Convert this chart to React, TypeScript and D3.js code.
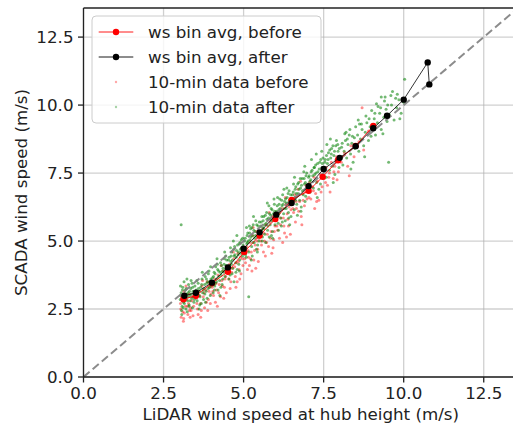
import React from "react";
import * as d3 from "d3";

// bin averages (LiDAR ws, SCADA ws)
const binBefore: [number, number][] = [
  [3.12, 2.86], [3.51, 2.99], [4.01, 3.45], [4.51, 3.87], [5.02, 4.6], [5.5, 5.2],
  [5.99, 5.81], [6.5, 6.51], [7.03, 6.85], [7.47, 7.36], [7.95, 7.97], [8.5, 8.5], [9.05, 9.23],
];
const binAfter: [number, number][] = [
  [3.15, 2.99], [3.51, 3.1], [4.01, 3.47], [4.51, 4.03], [5.0, 4.72], [5.5, 5.32],
  [6.02, 5.97], [6.5, 6.4], [7.03, 7.02], [7.5, 7.65], [8.0, 8.06], [8.5, 8.49],
  [9.05, 9.15], [9.48, 9.61], [10.0, 10.2], [10.75, 11.57], [10.8, 10.76],
];

// 10-min samples
const rawBefore: [number, number][] = [
  [3.03,2.7],[3.07,2.95],[3.1,2.4],[3.14,3.15],[3.18,2.6],[3.22,2.85],[3.26,2.3],[3.3,3.05],[3.34,2.55],[3.38,2.8],[3.42,2.25],[3.46,3.0],[3.05,2.2],[3.2,3.35],[3.36,2.45],[3.12,2.05],[3.28,2.7],
  [3.04,2.5],[3.09,2.8],[3.15,2.35],[3.19,3.0],[3.24,2.6],[3.31,2.45],[3.39,2.95],[3.44,2.6],[3.13,2.15],[3.33,2.2],
  [3.52,2.9],[3.56,2.5],[3.6,3.15],[3.65,2.7],[3.7,3.35],[3.74,2.95],[3.78,2.55],[3.82,3.2],[3.86,3.5],[3.9,2.85],[3.94,3.3],[3.98,3.05],[3.58,2.3],[3.88,2.45],[3.72,3.55],
  [3.54,2.7],[3.63,3.0],[3.68,2.45],[3.76,3.1],[3.84,2.75],[3.92,3.15],[3.96,2.7],[3.66,2.2],
  [4.02,3.3],[4.06,3.0],[4.1,3.6],[4.15,3.2],[4.2,3.75],[4.24,3.4],[4.28,2.95],[4.32,3.55],[4.36,3.9],[4.4,3.3],[4.44,3.7],[4.48,4.05],[4.12,2.75],[4.3,4.1],[4.46,3.1],
  [4.04,3.15],[4.14,3.45],[4.22,3.1],[4.34,3.35],[4.42,3.6],[4.38,2.9],[4.18,2.6],
  [4.52,3.8],[4.56,4.15],[4.6,3.5],[4.65,4.0],[4.7,4.35],[4.74,3.7],[4.78,4.2],[4.82,4.55],[4.86,3.95],[4.9,4.4],[4.94,4.75],[4.98,4.1],[4.58,3.25],[4.8,3.5],[4.68,4.6],[4.92,3.8],
  [4.54,3.6],[4.63,3.85],[4.72,4.05],[4.84,4.25],[4.96,4.35],[4.76,3.3],[4.88,3.6],
  [5.02,4.55],[5.06,4.2],[5.1,4.8],[5.15,4.4],[5.2,4.95],[5.24,4.6],[5.28,5.2],[5.32,4.3],[5.36,4.85],[5.4,5.35],[5.44,4.7],[5.48,5.1],[5.12,3.95],[5.3,5.5],[5.46,4.25],[5.18,4.1],
  [5.04,4.35],[5.14,4.65],[5.22,4.35],[5.34,4.65],[5.42,5.0],[5.38,4.0],[5.26,3.9],
  [5.52,5.15],[5.56,4.85],[5.6,5.45],[5.65,5.0],[5.7,5.6],[5.74,5.25],[5.78,4.8],[5.82,5.7],[5.86,5.35],[5.9,5.9],[5.94,5.05],[5.98,5.55],[5.62,4.6],[5.8,6.05],[5.92,4.75],
  [5.54,5.0],[5.64,5.3],[5.72,4.95],[5.84,5.1],[5.96,5.35],[5.68,4.45],[5.88,4.55],
  [6.02,5.75],[6.06,5.4],[6.1,6.0],[6.15,5.6],[6.2,6.2],[6.24,5.85],[6.28,5.3],[6.32,6.35],[6.36,6.0],[6.4,5.55],[6.44,6.5],[6.48,6.15],[6.12,5.1],[6.3,6.6],[6.46,5.25],
  [6.04,5.55],[6.16,5.85],[6.26,5.55],[6.38,5.8],[6.42,6.25],[6.22,4.95],[6.34,5.15],
  [6.52,6.4],[6.56,6.05],[6.6,6.7],[6.65,6.2],[6.7,6.9],[6.75,6.45],[6.8,5.9],[6.85,6.75],[6.9,6.3],[6.95,7.05],[6.62,5.7],[6.78,7.2],[6.98,6.55],
  [6.54,6.2],[6.64,6.45],[6.72,6.1],[6.86,6.5],[6.92,6.8],[6.82,5.6],
  [7.02,6.8],[7.06,7.15],[7.1,6.55],[7.15,7.0],[7.2,7.35],[7.25,6.75],[7.3,7.2],[7.35,6.5],[7.4,7.45],[7.45,7.0],[7.22,6.2],[7.48,7.6],
  [7.04,6.6],[7.18,6.85],[7.28,6.45],[7.42,6.8],[7.56,7.15],[7.66,7.35],[7.82,7.55],[7.92,7.25],
  [7.52,7.3],[7.58,7.7],[7.62,7.05],[7.68,7.5],[7.74,7.9],[7.8,7.3],[7.85,7.75],[7.9,8.1],[7.96,7.55],[7.7,6.8],
  [8.05,7.9],[8.15,8.25],[8.25,7.75],[8.35,8.5],[8.45,8.1],[8.6,8.65],[8.75,8.35],[8.9,9.05],[9.05,9.2],[8.3,7.4],[8.7,9.9],
];

const rawAfter: [number, number][] = [
  [3.02,2.85],[3.05,3.1],[3.08,2.6],[3.1,3.3],[3.12,2.95],[3.15,2.7],[3.18,3.2],[3.2,2.5],[3.22,3.05],[3.25,2.8],[3.28,3.4],[3.3,2.65],[3.32,3.0],[3.35,3.25],[3.38,2.9],[3.4,2.55],[3.42,3.15],[3.45,2.75],[3.48,3.35],[3.03,3.35],[3.06,2.45],[3.14,3.5],[3.24,2.4],[3.36,3.55],[3.44,2.95],[3.12,2.75],[3.27,3.1],[3.33,2.8],[3.47,3.05],[3.19,2.9],
  [3.04,3.0],[3.09,3.2],[3.13,2.85],[3.17,3.05],[3.21,3.25],[3.26,2.95],[3.31,3.15],[3.37,3.05],[3.41,3.3],[3.46,2.85],[3.11,2.55],[3.29,2.6],[3.39,3.45],[3.07,2.3],[3.23,3.6],
  [3.52,3.2],[3.55,2.8],[3.58,3.45],[3.6,3.0],[3.63,2.65],[3.66,3.3],[3.7,3.6],[3.72,3.1],[3.75,2.85],[3.78,3.4],[3.8,3.7],[3.83,3.15],[3.86,2.9],[3.88,3.5],[3.9,3.8],[3.93,3.3],[3.96,3.0],[3.98,3.6],[3.54,3.55],[3.68,2.7],[3.77,3.25],[3.85,3.45],[3.62,3.15],[3.92,3.9],[3.57,3.05],
  [3.53,3.0],[3.59,3.25],[3.64,2.95],[3.69,3.4],[3.74,3.2],[3.79,3.05],[3.84,3.6],[3.89,3.25],[3.94,3.5],[3.99,3.35],[3.61,2.5],[3.81,2.75],[3.71,3.85],[3.97,4.05],
  [4.02,3.5],[4.05,3.1],[4.08,3.85],[4.1,3.35],[4.13,4.05],[4.16,3.6],[4.2,3.2],[4.22,3.9],[4.25,3.55],[4.28,4.2],[4.3,3.75],[4.33,3.4],[4.36,4.0],[4.4,4.35],[4.42,3.7],[4.45,4.1],[4.48,3.9],[4.06,3.7],[4.18,4.15],[4.26,3.0],[4.35,3.6],[4.44,4.45],[4.12,3.45],[4.38,3.85],
  [4.03,3.65],[4.07,3.4],[4.11,3.8],[4.15,3.5],[4.19,3.95],[4.23,3.7],[4.27,3.85],[4.31,4.1],[4.34,3.9],[4.39,4.15],[4.43,3.95],[4.47,4.3],[4.09,3.2],[4.29,3.3],[4.41,4.6],[4.17,4.35],
  [4.52,4.05],[4.55,4.4],[4.58,3.75],[4.6,4.25],[4.63,4.6],[4.66,4.0],[4.7,4.45],[4.72,4.8],[4.75,4.2],[4.78,4.65],[4.8,3.95],[4.83,4.5],[4.86,4.9],[4.88,4.3],[4.9,4.7],[4.93,5.05],[4.96,4.45],[4.98,4.85],[4.54,3.6],[4.68,5.0],[4.76,3.85],[4.85,4.15],[4.62,4.15],[4.92,4.55],[4.7,3.5],
  [4.53,4.3],[4.57,4.1],[4.61,4.45],[4.65,4.3],[4.69,4.7],[4.73,4.5],[4.77,4.4],[4.81,4.85],[4.84,4.6],[4.89,4.95],[4.94,4.75],[4.97,5.1],[4.59,4.75],[4.79,5.2],[4.87,3.9],[4.64,3.8],
  [5.02,4.75],[5.05,5.1],[5.08,4.4],[5.1,4.9],[5.13,5.3],[5.16,4.6],[5.2,5.05],[5.22,5.45],[5.25,4.8],[5.28,5.2],[5.3,5.6],[5.33,4.95],[5.36,5.35],[5.4,4.7],[5.42,5.15],[5.45,5.55],[5.48,5.0],[5.06,4.5],[5.18,5.55],[5.27,4.45],[5.38,5.75],[5.44,4.85],[5.12,4.95],[5.34,5.1],
  [5.03,5.0],[5.07,4.75],[5.11,5.2],[5.14,5.0],[5.19,5.3],[5.23,5.15],[5.26,5.5],[5.29,4.95],[5.32,5.4],[5.37,5.2],[5.41,5.6],[5.46,5.3],[5.49,5.7],[5.09,5.5],[5.24,4.3],[5.43,4.6],[5.31,5.9],
  [5.52,5.3],[5.55,5.7],[5.58,5.0],[5.6,5.5],[5.63,5.9],[5.66,5.25],[5.7,5.65],[5.72,6.05],[5.75,5.4],[5.78,5.85],[5.8,5.15],[5.83,5.6],[5.86,6.2],[5.88,5.75],[5.9,5.35],[5.93,6.0],[5.96,6.35],[5.98,5.6],[5.57,5.9],[5.69,4.95],[5.79,6.3],[5.91,5.1],[5.64,5.45],[5.85,5.95],
  [5.53,5.55],[5.56,5.4],[5.61,5.75],[5.65,5.6],[5.68,5.95],[5.73,5.8],[5.76,5.55],[5.81,6.0],[5.84,5.8],[5.89,6.15],[5.94,5.85],[5.97,6.1],[5.59,5.15],[5.74,6.4],[5.87,5.2],[5.95,6.55],
  [6.02,5.95],[6.05,6.3],[6.08,5.65],[6.1,6.15],[6.13,6.55],[6.16,5.85],[6.2,6.3],[6.22,6.7],[6.25,6.0],[6.28,6.45],[6.3,5.75],[6.33,6.2],[6.36,6.6],[6.4,6.05],[6.42,6.85],[6.45,6.35],[6.48,5.9],[6.06,6.6],[6.18,5.55],[6.35,6.95],[6.44,5.6],[6.12,6.05],[6.38,6.4],
  [6.03,6.1],[6.07,5.9],[6.11,6.35],[6.14,6.2],[6.19,6.5],[6.23,6.35],[6.27,6.2],[6.31,6.55],[6.34,6.4],[6.39,6.75],[6.43,6.5],[6.47,6.7],[6.09,5.4],[6.26,6.9],[6.41,5.85],[6.21,5.7],
  [6.52,6.45],[6.55,6.8],[6.58,6.15],[6.6,6.6],[6.63,7.0],[6.66,6.35],[6.7,6.75],[6.72,7.15],[6.75,6.5],[6.78,6.95],[6.8,6.25],[6.83,7.3],[6.86,6.7],[6.9,7.1],[6.92,6.45],[6.95,7.4],[6.98,6.9],[6.56,7.1],[6.68,5.95],[6.88,7.55],[6.62,6.5],[6.94,6.65],
  [6.53,6.7],[6.57,6.55],[6.61,6.9],[6.64,6.75],[6.69,7.1],[6.73,6.9],[6.77,7.3],[6.81,7.05],[6.84,6.85],[6.89,7.3],[6.93,7.15],[6.97,7.5],[6.59,7.35],[6.79,6.1],[6.91,7.75],
  [7.02,7.1],[7.05,7.4],[7.08,6.8],[7.1,7.25],[7.14,7.6],[7.18,6.95],[7.22,7.45],[7.25,7.8],[7.28,7.15],[7.32,7.55],[7.35,6.9],[7.38,7.9],[7.42,7.35],[7.45,7.7],[7.48,8.05],[7.12,8.0],[7.3,6.6],[7.4,7.1],[7.2,7.7],
  [7.03,7.35],[7.07,7.2],[7.11,7.55],[7.16,7.4],[7.21,7.7],[7.26,7.5],[7.31,7.85],[7.36,7.65],[7.41,8.0],[7.46,7.85],[7.27,8.2],[7.44,8.3],
  [7.52,7.7],[7.55,8.0],[7.58,7.35],[7.62,7.85],[7.65,8.25],[7.68,7.6],[7.72,8.05],[7.75,8.4],[7.78,7.75],[7.82,8.15],[7.85,7.45],[7.88,8.5],[7.92,7.95],[7.95,8.3],[7.98,7.7],[7.6,8.55],[7.8,7.15],[7.9,8.7],
  [7.54,7.9],[7.59,8.15],[7.64,8.0],[7.69,8.35],[7.74,8.2],[7.79,8.5],[7.84,8.3],[7.89,8.0],[7.94,8.55],[7.99,8.4],[7.71,8.75],
  [8.02,8.1],[8.06,8.45],[8.1,7.8],[8.14,8.3],[8.18,8.7],[8.22,8.05],[8.26,8.55],[8.3,8.9],[8.34,8.2],[8.38,8.6],[8.42,7.9],[8.46,8.8],[8.2,9.0],[8.35,7.65],[8.48,8.4],
  [8.08,8.6],[8.16,8.95],[8.24,8.75],[8.32,9.1],[8.4,8.85],[8.5,9.2],[8.58,9.45],[8.68,9.3],[8.82,9.6],[8.92,9.5],
  [8.52,8.55],[8.56,8.9],[8.6,8.3],[8.65,8.75],[8.7,9.1],[8.75,8.5],[8.8,9.0],[8.85,9.35],[8.9,8.7],[8.95,9.2],[8.62,9.3],[8.78,8.1],[8.98,8.85],
  [9.02,9.15],[9.08,9.5],[9.12,8.9],[9.18,9.35],[9.25,9.7],[9.3,9.1],[9.38,9.55],[9.45,9.85],[9.2,9.95],[9.35,8.95],[9.48,9.4],
  [9.0,9.8],[9.1,9.7],[9.15,10.05],[9.28,9.9],[9.4,10.15],[9.5,10.0],[9.65,10.5],[9.8,10.4],[9.42,10.3],
  [9.55,9.65],[9.62,10.0],[9.7,9.45],[9.78,9.9],[9.85,10.2],[9.92,9.7],[9.6,10.35],[9.75,10.25],[9.88,9.5],[10.0,10.1],
  [3.05,5.6],[5.16,2.95],[9.53,7.9],[10.03,10.95],[9.3,10.3],
];

const ticks = [0, 2.5, 5, 7.5, 10, 12.5];
const legendItems = [
  { label: "ws bin avg, before", kind: "line", color: "red" },
  { label: "ws bin avg, after", kind: "line", color: "black" },
  { label: "10-min data before", kind: "dot", color: "red" },
  { label: "10-min data after", kind: "dot", color: "green" },
];

const W = 513;
const H = 425;
const left = 83.5, right = 518, top = 8, bottom = 377;
const font = "'DejaVu Sans', sans-serif";
const fs = 16.7;

export default function App() {
  const x = d3.scaleLinear().domain([0, 13.57]).range([left, right]);
  const y = d3.scaleLinear().domain([0, 13.57]).range([bottom, top]);
  const line = d3.line<[number, number]>().x((d) => x(d[0])).y((d) => y(d[1]));

  return (
    <svg width={W} height={H} style={{ position: "absolute", left: 0, top: 0, fontFamily: font }}>
      <defs>
        <clipPath id="plot">
          <rect x={left} y={top} width={right - left} height={bottom - top} />
        </clipPath>
      </defs>
      <rect x={0} y={0} width={W} height={H} fill="white" />

      {/* grid */}
      {ticks.map((t) => (
        <g key={"g" + t}>
          <line x1={x(t)} x2={x(t)} y1={top} y2={bottom} stroke="#b0b0b0" strokeOpacity={0.6} strokeWidth={1.3} />
          <line x1={left} x2={right} y1={y(t)} y2={y(t)} stroke="#b0b0b0" strokeOpacity={0.6} strokeWidth={1.3} />
        </g>
      ))}

      <g clipPath="url(#plot)">
        {rawBefore.map((d, i) => (
          <circle key={"rb" + i} cx={x(d[0])} cy={y(d[1])} r={1.5} fill="red" fillOpacity={0.45} />
        ))}
        {rawAfter.map((d, i) => (
          <circle key={"ra" + i} cx={x(d[0])} cy={y(d[1])} r={1.5} fill="green" fillOpacity={0.55} />
        ))}
        <line x1={x(0)} y1={y(0)} x2={x(14)} y2={y(14)} stroke="gray" strokeOpacity={0.9} strokeWidth={2} strokeDasharray="8,4" />
        <path d={line(binBefore) || ""} fill="none" stroke="red" strokeWidth={0.9} />
        {binBefore.map((d, i) => (
          <circle key={"bb" + i} cx={x(d[0])} cy={y(d[1])} r={3.2} fill="red" />
        ))}
        <path d={line(binAfter) || ""} fill="none" stroke="black" strokeWidth={0.8} />
        {binAfter.map((d, i) => (
          <circle key={"ba" + i} cx={x(d[0])} cy={y(d[1])} r={3.2} fill="black" />
        ))}
      </g>

      {/* spines */}
      <line x1={left} x2={left} y1={top} y2={bottom} stroke="#222" strokeWidth={1.3} />
      <line x1={left} x2={right} y1={bottom} y2={bottom} stroke="#222" strokeWidth={1.3} />
      <line x1={left} x2={right} y1={top} y2={top} stroke="#222" strokeWidth={1.3} />

      {/* ticks */}
      {ticks.map((t) => (
        <g key={"t" + t} fontSize={fs} fill="#222">
          <line x1={x(t)} x2={x(t)} y1={bottom} y2={bottom + 5.5} stroke="#222" strokeWidth={1.3} />
          <text x={x(t)} y={398.5} textAnchor="middle">{t.toFixed(1)}</text>
          <line x1={left - 5.5} x2={left} y1={y(t)} y2={y(t)} stroke="#222" strokeWidth={1.3} />
          <text x={73.5} y={y(t)} dy="0.36em" textAnchor="end">{t.toFixed(1)}</text>
        </g>
      ))}

      <text x={(left + right) / 2} y={420} textAnchor="middle" fontSize={fs} fill="#222">
        LiDAR wind speed at hub height (m/s)
      </text>
      <text transform={`translate(27,${(top + bottom) / 2}) rotate(-90)`} textAnchor="middle" fontSize={fs} fill="#222">
        SCADA wind speed (m/s)
      </text>

      {/* legend */}
      <rect x={92} y={16} width={229} height={107} rx={4} fill="white" fillOpacity={0.8} stroke="#cccccc" strokeWidth={1} />
      {legendItems.map((it, i) => {
        const cy = 32 + i * 25;
        return (
          <g key={it.label}>
            {it.kind === "line" ? (
              <>
                <line x1={98.7} x2={133.3} y1={cy} y2={cy} stroke={it.color} strokeWidth={0.9} />
                <circle cx={116} cy={cy} r={3.2} fill={it.color} />
              </>
            ) : (
              <circle cx={116} cy={cy} r={1.2} fill={it.color} fillOpacity={0.35} />
            )}
            <text x={148} y={cy} dy="0.36em" fontSize={fs} fill="#222">{it.label}</text>
          </g>
        );
      })}
    </svg>
  );
}
